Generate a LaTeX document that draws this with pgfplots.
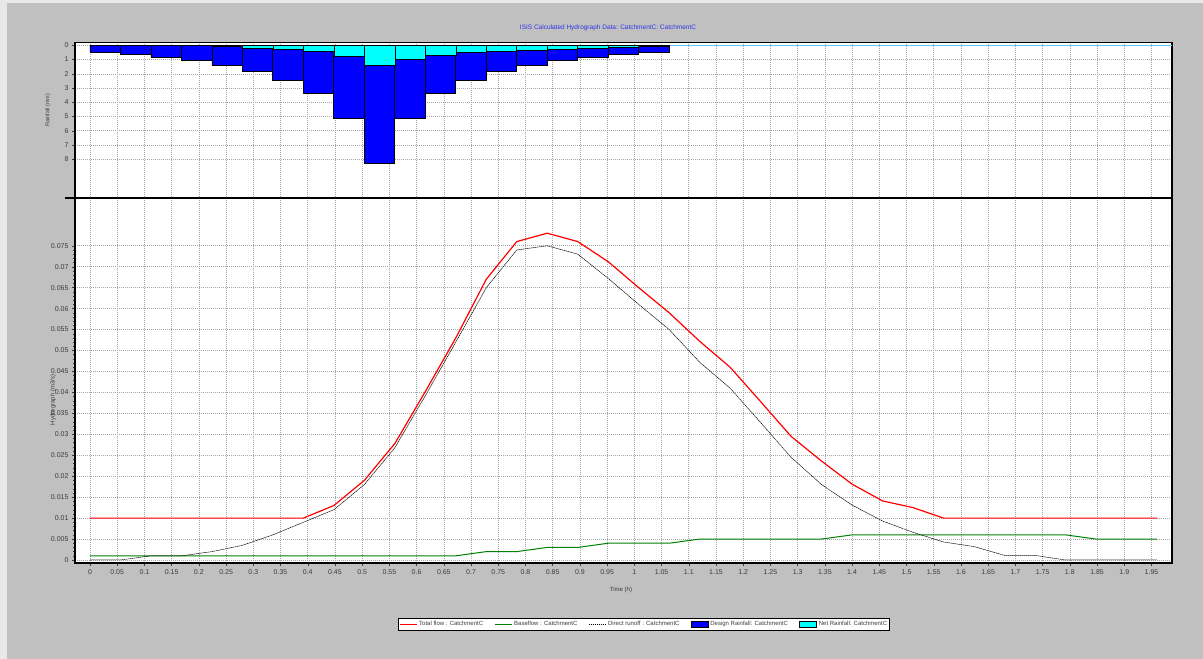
\documentclass[border=0pt]{standalone}
\usepackage{pgfplots}
\pgfplotsset{compat=1.18}
\usepackage{fontspec}
\setmainfont{Liberation Sans}
\definecolor{bg}{RGB}{192,192,192}
\definecolor{bglight}{RGB}{232,232,232}
\definecolor{gridc}{RGB}{165,165,165}
\definecolor{txt}{RGB}{60,60,60}
\definecolor{titleblue}{RGB}{50,50,235}
\definecolor{netcyan}{RGB}{0,255,255}
\definecolor{designblue}{RGB}{0,0,255}
\definecolor{flowred}{RGB}{255,0,0}
\definecolor{basegreen}{RGB}{0,128,0}
\definecolor{zeroline}{RGB}{90,200,255}
\pgfplotsset{
  common/.style={
    scale only axis, width=1097pt, enlargelimits=false,
    xmin=-0.02754, xmax=1.9877,
    xtick={0,0.05,0.1,0.15,0.2,0.25,0.3,0.35,0.4,0.45,0.5,0.55,0.6,0.65,0.7,0.75,0.8,0.85,0.9,0.95,1,1.05,1.1,1.15,1.2,1.25,1.3,1.35,1.4,1.45,1.5,1.55,1.6,1.65,1.7,1.75,1.8,1.85,1.9,1.95},
    grid=major,
    major grid style={gridc, line width=0.6pt, dash pattern=on 1pt off 1pt},
    axis line style={black, line width=1.1pt},
    axis background/.style={fill=white},
    tick style={txt, line width=0.4pt},
    tick align=outside,
    major tick length=3pt, minor tick length=1.5pt,
    tick label style={font=\fontsize{7}{8}\selectfont, text=txt},
    label style={font=\fontsize{6}{7}\selectfont, text=txt},
    /pgf/number format/assume math mode=true,
    scaled ticks=false,
  }
}
\begin{document}
\begin{tikzpicture}[x=1pt,y=1pt]
\useasboundingbox (0,0) rectangle (1203,659);
\fill[bglight] (0,0) rectangle (1203,659);
\fill[bg] (7,0) rectangle (1203,656);

% Rainfall panel
\begin{axis}[common, at={(75pt,461pt)}, anchor=south west, height=155.5pt,
  y dir=reverse, ymin=-0.2, ymax=10.72, ytick={0,1,2,3,4,5,6,7,8},
  xticklabels={}, xtick style={draw=none}, ytick pos=left,
  ylabel={Rainfall (mm)},
  ylabel style={at={(axis description cs:-0.0246,0.566)}, anchor=center, font=\fontsize{5.5}{6}\selectfont},
]
\addplot[zeroline, line width=0.8pt] coordinates {(1.064,0) (1.9877,0)};
\addplot[ybar interval, fill=designblue, draw=black, line width=0.8pt] coordinates {
(0,0.48) (0.056,0.66) (0.112,0.86) (0.168,1.07) (0.224,1.38) (0.28,1.83) (0.336,2.46) (0.392,3.39) (0.448,5.10) (0.504,8.28) (0.56,5.10) (0.616,3.38) (0.672,2.46) (0.728,1.83) (0.784,1.38) (0.84,1.06) (0.896,0.85) (0.952,0.66) (1.008,0.47) (1.064,0)};
\addplot[ybar interval, fill=netcyan, draw=black, line width=0.6pt] coordinates {
(0,0) (0.056,0) (0.112,0) (0.168,0) (0.224,0.08) (0.28,0.2) (0.336,0.28) (0.392,0.45) (0.448,0.75) (0.504,1.4) (0.56,0.98) (0.616,0.7) (0.672,0.5) (0.728,0.4) (0.784,0.33) (0.84,0.26) (0.896,0.2) (0.952,0.14) (1.008,0.07) (1.064,0)};
\end{axis}

% Hydrograph panel
\begin{axis}[common, at={(75pt,96pt)}, anchor=south west, height=365pt,
  ymin=-0.000716, ymax=0.0864,
  ytick={0,0.005,0.01,0.015,0.02,0.025,0.03,0.035,0.04,0.045,0.05,0.055,0.06,0.065,0.07,0.075},
  yticklabel style={/pgf/number format/fixed, /pgf/number format/precision=3},
  xticklabel style={/pgf/number format/fixed, /pgf/number format/precision=2},
  minor x tick num=3, minor y tick num=4,
  xtick pos=bottom, ytick pos=left,
  xlabel={Time (h)},
  xlabel style={at={(axis description cs:0.4977,-0.074)}, anchor=center},
  ylabel={Hydrograph (m3/s)},
  ylabel style={at={(axis description cs:-0.02,0.4466)}, anchor=center},
  title={ISIS Calculated Hydrograph Data: CatchmentC: CatchmentC},
  title style={at={(axis description cs:0.4859,1.449)}, anchor=center, font=\fontsize{6.5}{7}\selectfont, text=titleblue},
  legend style={at={(axis description cs:0.5187,-0.1685)}, anchor=center, legend columns=5,
    draw=black, line width=0.8pt, fill=white, font=\fontsize{6}{7}\selectfont, text=txt,
    inner sep=0.8pt, /tikz/every even column/.append style={column sep=9pt}},
  legend cell align=left,
]
\addplot[flowred, line width=1.2pt] coordinates {
(0,0.01) (0.056,0.01) (0.112,0.01) (0.168,0.01) (0.224,0.01) (0.28,0.01) (0.336,0.01) (0.392,0.01)
(0.448,0.013) (0.504,0.019) (0.56,0.0278) (0.616,0.0402) (0.672,0.053) (0.728,0.067) (0.784,0.076)
(0.84,0.078) (0.896,0.076) (0.952,0.0712) (1.008,0.065) (1.064,0.059) (1.12,0.0522) (1.176,0.046)
(1.232,0.0378) (1.288,0.0295) (1.344,0.0236) (1.4,0.0181) (1.456,0.0141) (1.512,0.0125) (1.568,0.01)
(1.624,0.01) (1.68,0.01) (1.736,0.01) (1.792,0.01) (1.848,0.01) (1.904,0.01) (1.96,0.01)};
\addlegendentry{Total flow : CatchmentC}
\addplot[basegreen, line width=1pt] coordinates {
(0,0.001) (0.056,0.001) (0.112,0.001) (0.168,0.001) (0.224,0.001) (0.28,0.001) (0.336,0.001) (0.392,0.001)
(0.448,0.001) (0.504,0.001) (0.56,0.001) (0.616,0.001) (0.672,0.001) (0.728,0.002) (0.784,0.002)
(0.84,0.003) (0.896,0.003) (0.952,0.004) (1.008,0.004) (1.064,0.004) (1.12,0.005) (1.176,0.005)
(1.232,0.005) (1.288,0.005) (1.344,0.005) (1.4,0.006) (1.456,0.006) (1.512,0.006) (1.568,0.006)
(1.624,0.006) (1.68,0.006) (1.736,0.006) (1.792,0.006) (1.848,0.005) (1.904,0.005) (1.96,0.005)};
\addlegendentry{Baseflow : CatchmentC}
\addplot[black, line width=0.5pt, dash pattern=on 1.5pt off 0.5pt] coordinates {
(0,0) (0.056,0) (0.112,0.001) (0.168,0.001) (0.224,0.002) (0.28,0.0035) (0.336,0.006) (0.392,0.009)
(0.448,0.012) (0.504,0.018) (0.56,0.0268) (0.616,0.0392) (0.672,0.052) (0.728,0.065) (0.784,0.074)
(0.84,0.075) (0.896,0.073) (0.952,0.0672) (1.008,0.061) (1.064,0.055) (1.12,0.0472) (1.176,0.041)
(1.232,0.0328) (1.288,0.0245) (1.344,0.018) (1.4,0.0131) (1.456,0.0093) (1.512,0.0066) (1.568,0.0043)
(1.624,0.0032) (1.68,0.0011) (1.736,0.0011) (1.792,0) (1.848,0) (1.904,0) (1.96,0)};
\addlegendentry{Direct runoff : CatchmentC}
\addlegendimage{area legend, fill=designblue, draw=black, line width=0.8pt}
\addlegendentry{Design Rainfall: CatchmentC}
\addlegendimage{area legend, fill=netcyan, draw=black, line width=0.8pt}
\addlegendentry{Net Rainfall: CatchmentC}
\end{axis}
\draw[black, line width=1.1pt] (65,461) -- (75,461);
\end{tikzpicture}
\end{document}
